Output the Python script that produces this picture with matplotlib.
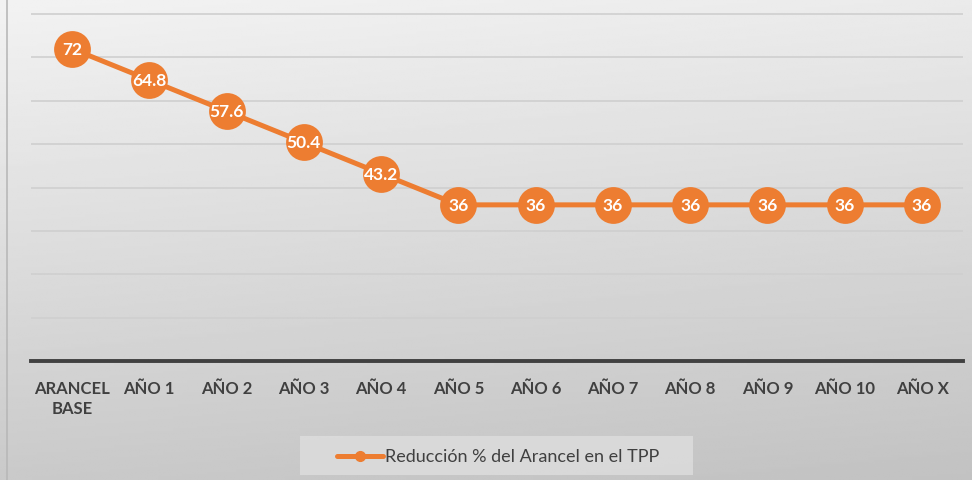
import numpy as np
import matplotlib.pyplot as plt

categories = ["ARANCEL\nBASE", "AÑO 1", "AÑO 2", "AÑO 3", "AÑO 4", "AÑO 5",
              "AÑO 6", "AÑO 7", "AÑO 8", "AÑO 9", "AÑO 10", "AÑO X"]
values = [72, 64.8, 57.6, 50.4, 43.2, 36, 36, 36, 36, 36, 36, 36]
series_name = "Reducción % del Arancel en el TPP"

orange = "#ED7D31"
text_gray = "#404040"

fig = plt.figure(figsize=(9.72, 4.81), dpi=100)

# gradient background
bg = fig.add_axes([0, 0, 1, 1], zorder=0)
yy, xx = np.mgrid[0:1:200j, 0:1:200j]
grad = 0.95 - 0.16 * yy - 0.03 * xx
bg.imshow(grad, cmap="gray", vmin=0, vmax=1, extent=[0, 1, 0, 1],
          aspect="auto", origin="upper")
bg.axvline(0.0072, color="#b8b8b8", lw=1.2)
bg.set_xlim(0, 1)
bg.set_ylim(0, 1)
bg.axis("off")

ax = fig.add_axes([31 / 972, 1 - 362 / 481, 932 / 972, 360 / 481], zorder=1)
ax.patch.set_alpha(0)
x = np.arange(len(categories))
ax.plot(x, values, color=orange, lw=3.6, marker="o", markersize=26.5,
        markeredgewidth=0, solid_capstyle="round", zorder=3)
for xi, v in zip(x, values):
    ax.text(xi, v, f"{v:g}", ha="center", va="center", color="white",
            fontsize=12.5, fontweight="bold", family="Lato", zorder=4)

ax.set_xlim(-0.53, len(categories) - 0.47)
ax.set_ylim(0, 83)
ax.set_yticks(np.arange(10, 81, 10))
ax.yaxis.grid(True, color="#cfcfcf", lw=1.2)
ax.tick_params(axis="y", left=False, labelleft=False)
ax.set_xticks(x)
ax.set_xticklabels(categories, fontsize=12, fontweight="bold", color=text_gray,
                   family="Lato", linespacing=1.3)
ax.tick_params(axis="x", length=0, pad=14)
for s in ["top", "right", "left"]:
    ax.spines[s].set_visible(False)
ax.spines["bottom"].set_color(text_gray)
ax.spines["bottom"].set_linewidth(2.8)

# legend
leg_ax = fig.add_axes([300 / 972, 1 - 476 / 481, 393 / 972, 39 / 481], zorder=1)
leg_ax.set_xlim(0, 393)
leg_ax.set_ylim(0, 39)
leg_ax.patch.set_facecolor("#dedede")
leg_ax.patch.set_alpha(0.8)
for s in leg_ax.spines.values():
    s.set_visible(False)
leg_ax.set_xticks([])
leg_ax.set_yticks([])
leg_ax.plot([37, 83], [19.5, 19.5], color=orange, lw=3.6, solid_capstyle="round")
leg_ax.plot([60], [19.5], "o", color=orange, markersize=7)
leg_ax.text(85, 19.5, series_name, va="center", ha="left", fontsize=13,
            color=text_gray, family="Lato")

fig.savefig("out.png", dpi=100)
